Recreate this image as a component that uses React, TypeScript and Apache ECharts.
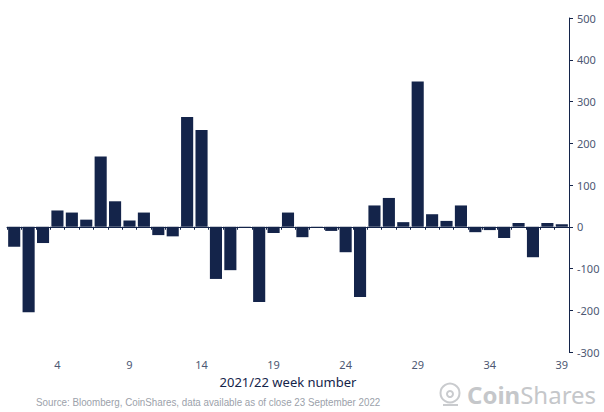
import React, { useEffect, useRef } from "react";
import * as echarts from "echarts";

const weeks: string[] = Array.from({ length: 39 }, (_, i) => String(i + 1));
const flows: number[] = [
  -48, -205, -39, 39, 34, 17, 168, 61, 15, 34,
  -20, -23, 263, 232, -125, -104, -3, -180, -15, 34,
  -25, -2, -10, -61, -168, 51, 69, 11, 348, 30,
  14, 51, -13, -8, -27, 9, -73, 9, 6,
];
const yTicks = { min: -300, max: 500, interval: 100 };
const axisTitle = "2021/22 week number";
const sourceText = "Source: Bloomberg, CoinShares, data available as of close 23 September 2022";

const NAVY = "#14244a";
const LABEL = "#4d5873";

export default function App() {
  const ref = useRef<HTMLDivElement>(null);
  useEffect(() => {
    if (!ref.current) return;
    const chart = echarts.init(ref.current, undefined, { renderer: "svg" });
    chart.setOption({
      animation: false,
      grid: { left: 7, right: 35, top: 18, bottom: 60 },
      xAxis: [
        {
          type: "category",
          data: weeks,
          axisLine: { onZero: true, lineStyle: { color: NAVY, width: 1 } },
          axisTick: { show: true, interval: 0, length: 3, lineStyle: { color: NAVY } },
          axisLabel: { show: false },
        },
        {
          type: "category",
          data: weeks,
          position: "bottom",
          axisLine: { show: false, onZero: false },
          axisTick: { show: false },
          axisLabel: {
            color: LABEL,
            fontSize: 11,
            fontFamily: "Noto Sans",
            margin: 7,
            interval: (i: number) => (i - 3) % 5 === 0,
          },
          name: axisTitle,
          nameLocation: "middle",
          nameGap: 23,
          nameTextStyle: { color: NAVY, fontSize: 13, fontFamily: "Noto Sans" },
        },
      ],
      yAxis: {
        type: "value",
        position: "right",
        min: yTicks.min,
        max: yTicks.max,
        interval: yTicks.interval,
        axisLine: { show: true, lineStyle: { color: NAVY } },
        axisTick: { show: true, length: 4, lineStyle: { color: NAVY } },
        splitLine: { show: false },
        axisLabel: { color: LABEL, fontSize: 11, fontFamily: "Noto Sans", margin: 8 },
      },
      series: [
        {
          type: "bar",
          xAxisIndex: 0,
          data: flows,
          barCategoryGap: "16%",
          itemStyle: { color: NAVY },
        },
      ],
      graphic: [
        {
          type: "text",
          x: 36,
          y: 397,
          scaleX: 0.89,
          style: {
            text: sourceText,
            fill: "#9ba1aa",
            fontSize: 11,
            fontFamily: "Liberation Sans",
          },
        },
        {
          type: "circle",
          shape: { cx: 450, cy: 393, r: 9.5 },
          style: { fill: "none", stroke: "#c9cbce", lineWidth: 2 },
        },
        {
          type: "circle",
          shape: { cx: 450, cy: 394, r: 3 },
          style: { fill: "none", stroke: "#c9cbce", lineWidth: 2 },
        },
        {
          type: "line",
          shape: { x1: 443, y1: 405, x2: 458, y2: 405 },
          style: { stroke: "#c9cbce", lineWidth: 2 },
        },
        {
          type: "text",
          x: 467,
          y: 382,
          style: {
            text: "{b|Coin}{r|Shares}",
            rich: {
              b: { fontSize: 24, fontWeight: "bold", fill: "#c5c7ca", fontFamily: "Noto Sans" },
              r: { fontSize: 24, fill: "#c5c7ca", fontFamily: "Noto Sans" },
            },
          },
        },
      ],
    });
    return () => chart.dispose();
  }, []);
  return (
    <div
      ref={ref}
      style={{ position: "absolute", left: 0, top: 0, width: 604, height: 412 }}
    />
  );
}
